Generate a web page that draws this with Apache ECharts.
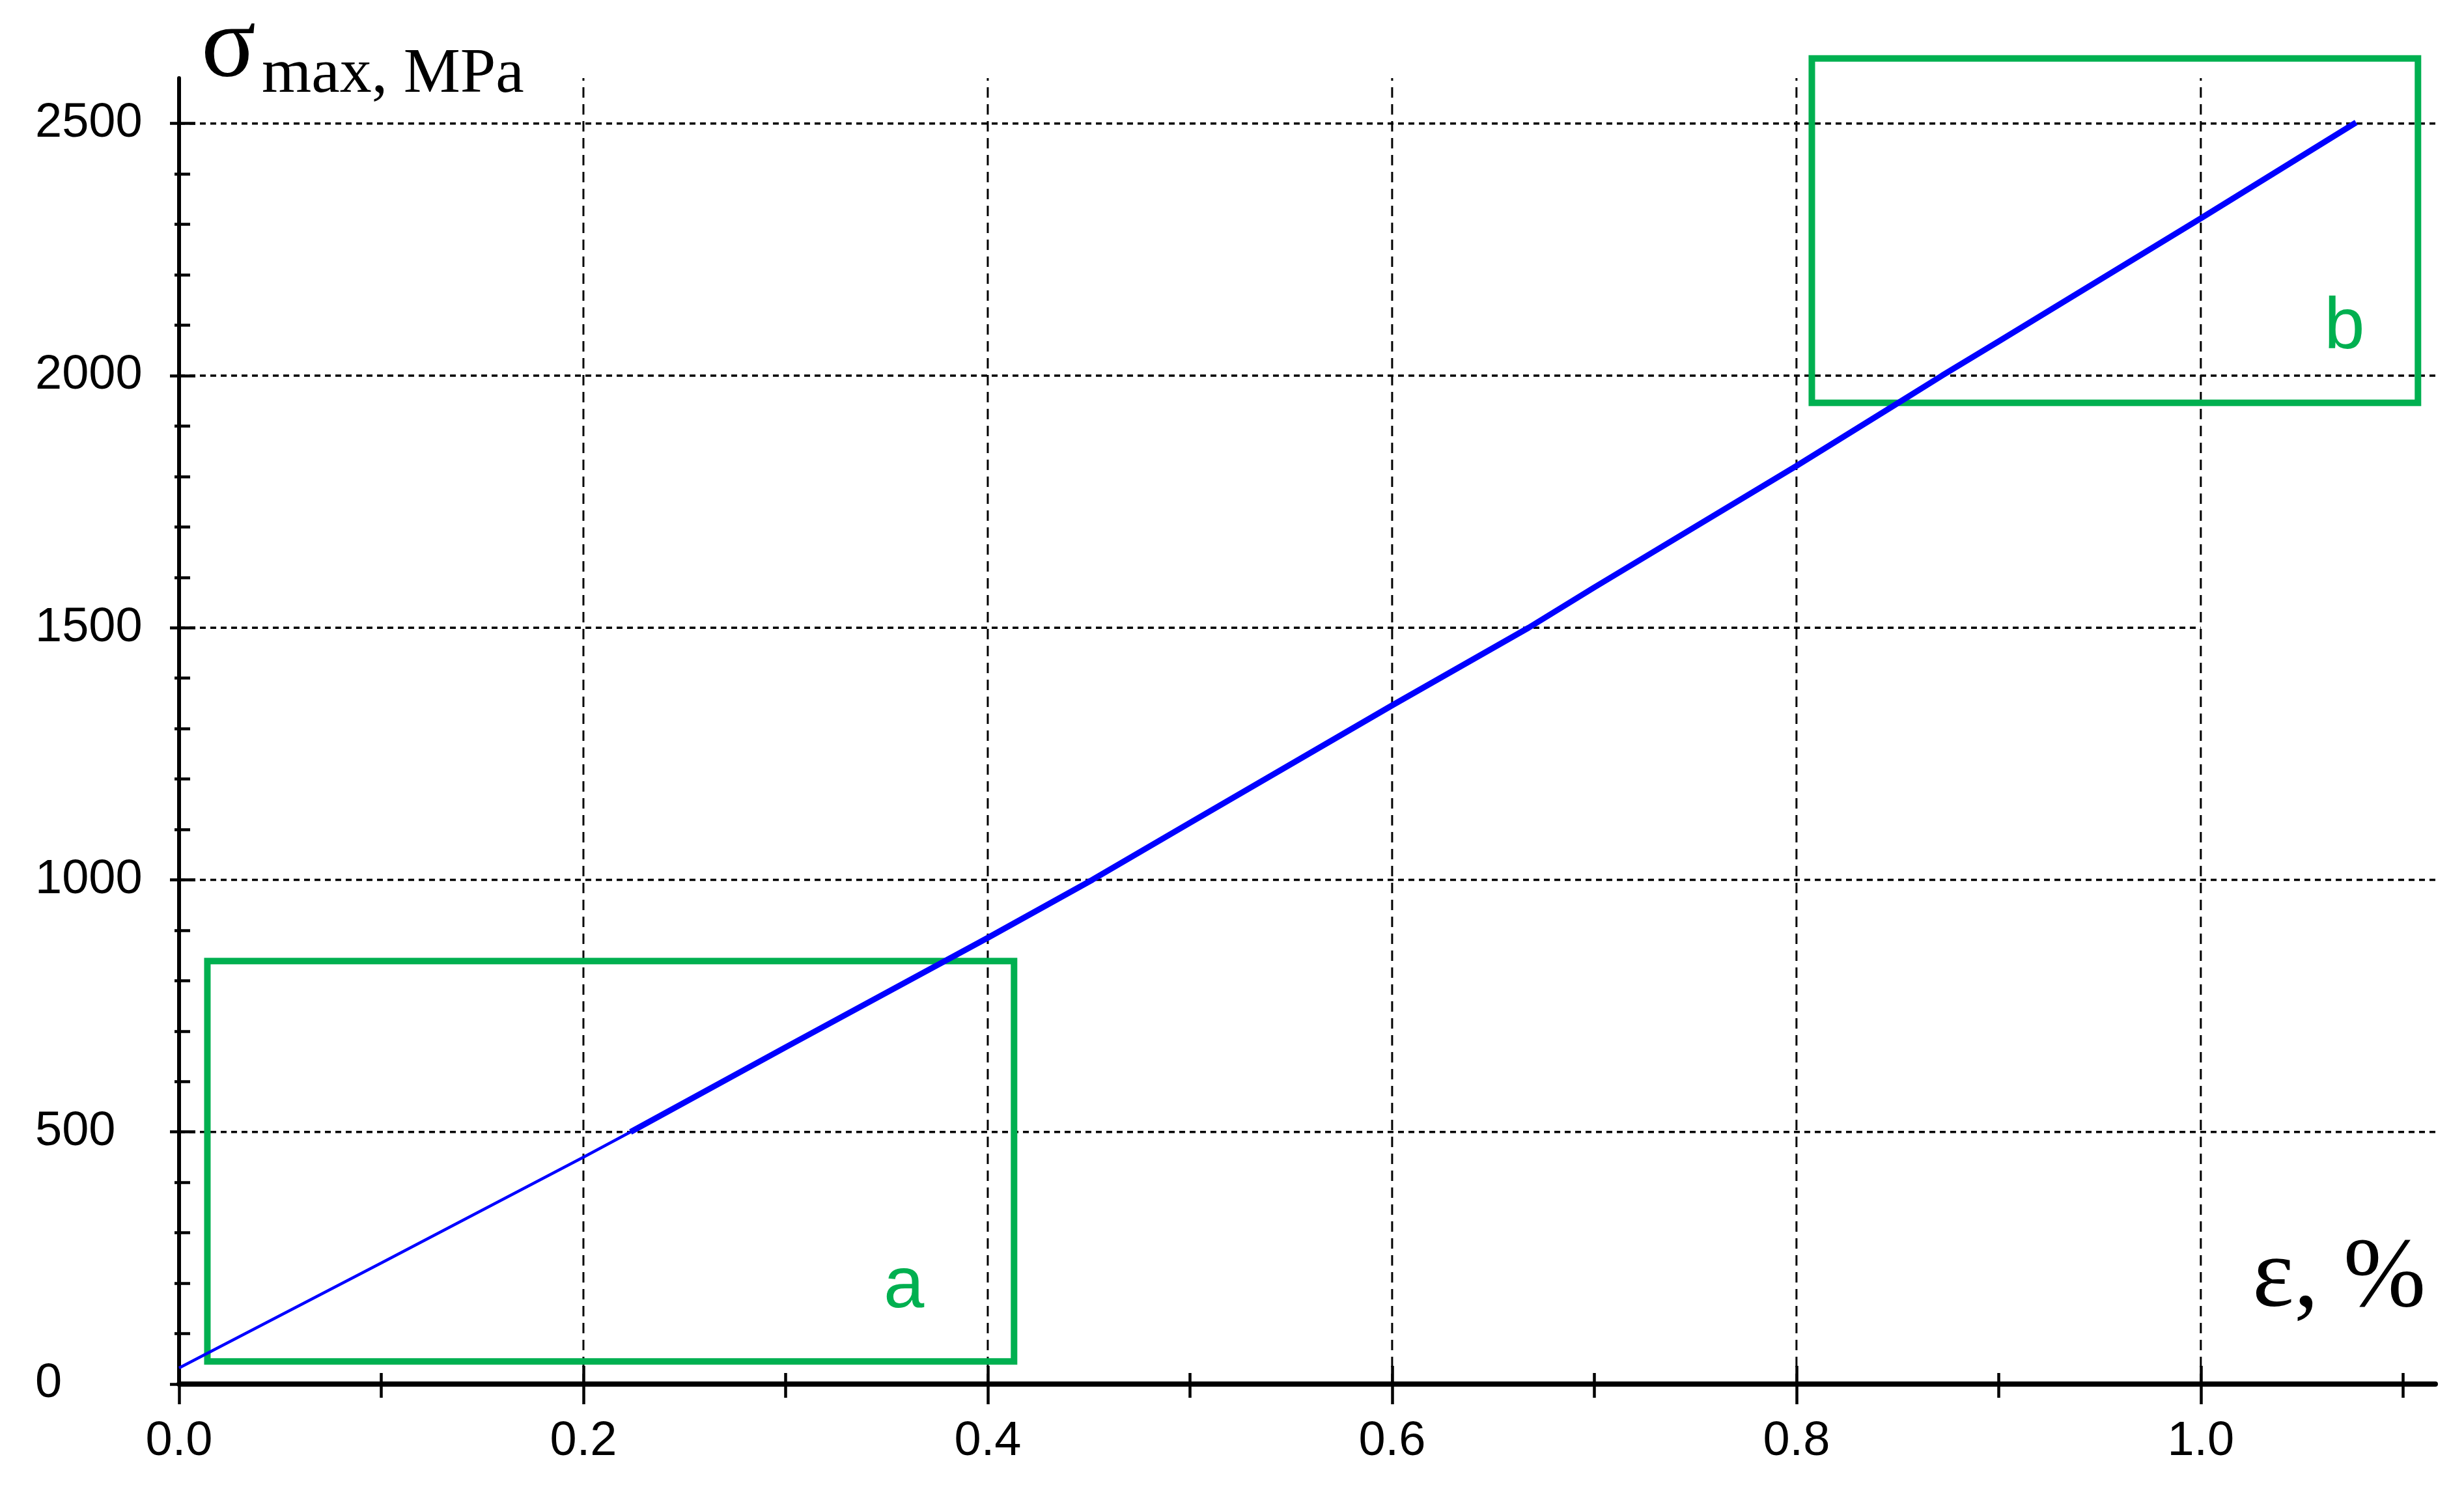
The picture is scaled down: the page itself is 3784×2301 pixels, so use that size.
<!DOCTYPE html>
<html><head><meta charset="utf-8">
<script src="https://cdn.jsdelivr.net/npm/echarts@6/dist/echarts.min.js"></script>
<style>html,body{margin:0;padding:0;background:#fff}#c{width:3784px;height:2301px}</style>
</head><body><div id="c"></div>
<script>
// ---- data ----
const strain = [0, 0.1, 0.2, 0.2233, 0.3, 0.4, 0.4517, 0.5, 0.6, 0.6675, 0.7, 0.8, 0.852, 0.872, 0.9, 1.0, 1.0768];
const stress = [32, 240, 450, 500, 668, 885, 1000, 1113, 1346, 1500, 1580, 1821, 1950, 2000, 2068, 2312, 2502];
const thinEndIndex = 3;
const xLabelValues = [0, 0.2, 0.4, 0.6, 0.8, 1.0];
const xMajorTicks = [0, 0.2, 0.4, 0.6, 0.8, 1.0];
const xMinorTicks = [0.1, 0.3, 0.5, 0.7, 0.9, 1.1];
const yLabelValues = [0, 500, 1000, 1500, 2000, 2500];
const yMajorTicks = [0, 500, 1000, 1500, 2000, 2500];
const yMinorTicks = [100,200,300,400,600,700,800,900,1100,1200,1300,1400,1600,1700,1800,1900,2100,2200,2300,2400];
const hGridValues = [500, 1000, 1500, 2000, 2500];
const hGridEnds = [null, null, 1.0, null, null];
const vGridValues = [0.2, 0.4, 0.6, 0.8, 1.0];
const boxNames = ['a', 'b'];
const boxX1 = [0.014, 0.8076];
const boxX2 = [0.413, 1.1074];
const boxY1 = [45, 1946];
const boxY2 = [839, 2629];
const boxLabelX = [0.3585, 1.071];
const boxLabelY = [192, 2094];
const X_MAX = 1.116, Y_MAX = 2590;

const GREEN = '#00b050';
const SANS = '"Liberation Sans", Arial, sans-serif';
const SERIF = '"Liberation Serif", "Times New Roman", serif';

const pts = strain.map((x, i) => [x, stress[i]]);
const thinPts = pts.slice(0, thinEndIndex + 1);
const thickPts = pts.slice(thinEndIndex);

function tickAxis(kind, values, len, inside) {
  return {
    type: 'value', min: 0, max: kind === 'x' ? X_MAX : Y_MAX,
    position: kind === 'x' ? 'bottom' : 'left',
    axisLine: { show: false },
    axisLabel: { show: false },
    splitLine: { show: false },
    axisTick: { show: true, customValues: values, length: len, inside: inside,
      lineStyle: { color: '#000', width: 4.5 } }
  };
}

const chart = echarts.init(document.getElementById('c'));
chart.setOption({
  animation: false,
  backgroundColor: '#fff',
  grid: { left: 275, right: 44, top: 120, bottom: 175, containLabel: false },
  xAxis: [
    { type: 'value', min: 0, max: X_MAX, position: 'bottom',
      axisLine: { show: true, lineStyle: { color: '#000', width: 8 } },
      axisTick: { show: false },
      splitLine: { show: false },
      axisLabel: { customValues: xLabelValues, formatter: v => v.toFixed(1), margin: 52,
        fontSize: 74, fontFamily: SANS, color: '#000' } },
    tickAxis('x', xMajorTicks, 31, false),
    tickAxis('x', xMajorTicks, 28, true),
    tickAxis('x', xMinorTicks, 21, false),
    tickAxis('x', xMinorTicks, 17, true)
  ],
  yAxis: [
    { type: 'value', min: 0, max: Y_MAX, position: 'left',
      axisLine: { show: true, lineStyle: { color: '#000', width: 6 } },
      axisTick: { show: false },
      splitLine: { show: false },
      axisLabel: { customValues: yLabelValues, formatter: v => String(v), align: 'left', margin: 221,
        fontSize: 74, fontFamily: SANS, color: '#000' } },
    tickAxis('y', yMajorTicks, 14, false),
    tickAxis('y', yMajorTicks, 25, true),
    tickAxis('y', yMinorTicks, 7, false),
    tickAxis('y', yMinorTicks, 17, true)
  ],
  series: [
    { type: 'custom', name: 'hgrid', clip: false, z: 1, silent: true,
      data: hGridValues.map((v, i) => [0, v, hGridEnds[i] == null ? X_MAX : hGridEnds[i], v]),
      encode: { x: [0, 2], y: [1, 3] },
      renderItem: (params, api) => {
        const a = api.coord([api.value(0), api.value(1)]);
        const b = api.coord([api.value(2), api.value(3)]);
        return { type: 'line', shape: { x1: a[0], y1: a[1], x2: b[0], y2: b[1] },
          style: { stroke: '#000', lineWidth: 3.5, lineDash: [9, 7] } };
      } },
    { type: 'custom', name: 'vgrid', clip: false, z: 1, silent: true,
      data: vGridValues.map(v => [v, 0, v, Y_MAX]),
      encode: { x: [0, 2], y: [1, 3] },
      renderItem: (params, api) => {
        const a = api.coord([api.value(0), api.value(1)]);
        const b = api.coord([api.value(2), api.value(3)]);
        return { type: 'line', shape: { x1: a[0], y1: a[1], x2: b[0], y2: b[1] },
          style: { stroke: '#000', lineWidth: 3, lineDash: [16, 10] } };
      } },
    { type: 'custom', name: 'boxes', clip: false, z: 2, silent: true,
      data: boxNames.map((n, i) => [boxX1[i], boxY1[i], boxX2[i], boxY2[i], boxLabelX[i], boxLabelY[i]]),
      encode: { x: [0, 2], y: [1, 3] },
      renderItem: (params, api) => {
        const p1 = api.coord([api.value(0), api.value(3)]);
        const p2 = api.coord([api.value(2), api.value(1)]);
        const lp = api.coord([api.value(4), api.value(5)]);
        return { type: 'group', children: [
          { type: 'rect', shape: { x: p1[0], y: p1[1], width: p2[0] - p1[0], height: p2[1] - p1[1] },
            style: { fill: 'none', stroke: GREEN, lineWidth: 10 } },
          { type: 'text', x: lp[0], y: lp[1],
            style: { text: boxNames[params.dataIndex], fill: GREEN, fontSize: 112, fontFamily: SANS,
              align: 'center', verticalAlign: 'middle' } }
        ] };
      } },
    { type: 'line', name: 'thin', data: thinPts, showSymbol: false, symbol: 'none', z: 3,
      lineStyle: { color: '#0000ff', width: 4.5 } },
    { type: 'line', name: 'thick', data: thickPts, showSymbol: false, symbol: 'none', z: 3,
      lineStyle: { color: '#0000ff', width: 9 } }
  ],
  graphic: [
    { type: 'text', x: 309, y: 75, z: 10,
      style: { text: 'σ', fontSize: 156, fontFamily: SERIF, fill: '#000', align: 'left', verticalAlign: 'middle' } },
    { type: 'text', x: 402, y: 115, z: 10,
      style: { text: 'max, MPa', fontSize: 98, fontFamily: SERIF, fill: '#000', align: 'left', verticalAlign: 'middle' } },
    { type: 'text', x: 3459, y: 1966, z: 10,
      style: { text: 'ε, %', fontSize: 152, fontFamily: SERIF, fill: '#000', align: 'left', verticalAlign: 'middle' } }
  ]
});
</script>
</body></html>
